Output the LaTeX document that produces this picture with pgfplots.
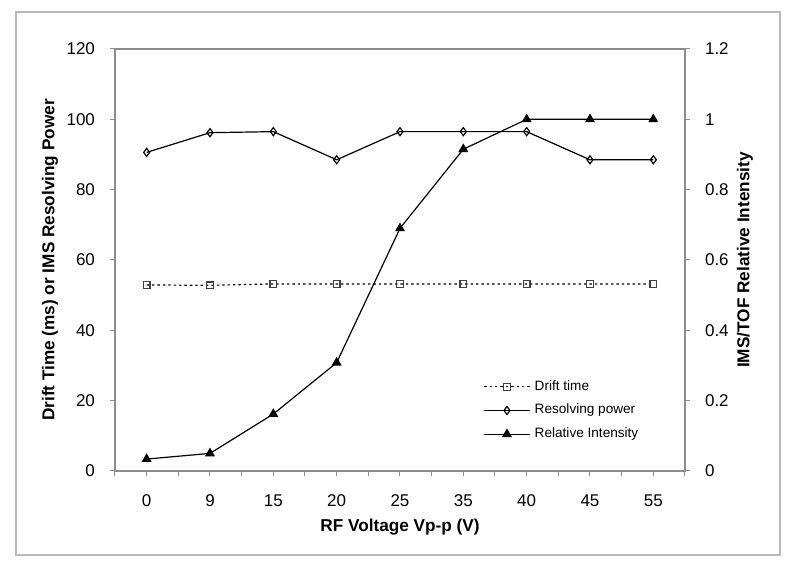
\documentclass[border=0pt]{standalone}
\usepackage{fontspec}
\setmainfont{Liberation Sans}
\usepackage{pgfplots}
\usepackage{pgfplotstable}
\pgfplotsset{compat=1.18}

\definecolor{axisgray}{RGB}{140,140,140}
\definecolor{framegray}{RGB}{185,185,185}

% x = category index (0..8), labels set below
\pgfplotstableread{
x rp drift rel
0 90.6 52.9 0.034
1 96.2 52.8 0.050
2 96.5 53.2 0.162
3 88.5 53.2 0.308
4 96.5 53.2 0.690
5 96.5 53.2 0.915
6 96.5 53.2 1.000
7 88.5 53.2 1.000
8 88.5 53.2 1.000
}\datatable

\pgfplotsset{
  base/.style={
    scale only axis, width=285pt, height=211pt,
    xmin=-0.5, xmax=8.5,
    /pgf/number format/assume math mode=true,
    tick label style={font=\fontsize{8.5}{10}\selectfont},
    label style={font=\fontsize{8.6}{10}\selectfont\bfseries},
    axis line style={axisgray, line width=0.6pt},
    tick style={axisgray, line width=0.5pt},
    tick align=outside, major tick length=2.5pt,
  },
  ser/.style={black, line width=0.6pt},
}

\begin{document}
\begin{tikzpicture}
\path[use as bounding box] (-57.5pt,-51pt) rectangle (342.5pt,235.5pt);
\draw[framegray, line width=0.7pt] (-49.5pt,-42pt) rectangle (332.5pt,229.5pt);

\begin{axis}[base,
  ymin=0, ymax=120, ytick={0,20,...,120},
  ytick pos=left, xtick pos=bottom,
  xtick={0,...,8},
  xticklabels={0,9,15,20,25,35,40,45,55},
  extra x ticks={-0.5,0.5,...,8.5},
  extra x tick labels={},
  x tick label style={yshift=-6pt},
  y tick label style={xshift=-4pt},
  xlabel={RF Voltage Vp-p (V)},
  ylabel={Drift Time (ms) or IMS Resolving Power},
  xlabel style={at={(rel axis cs:0.5,0)}, yshift=-20.5pt},
  ylabel style={at={(rel axis cs:0,0.5)}, yshift=25pt},
]
\addplot[ser, dash pattern=on 1.2pt off 1.5pt, mark=square, mark size=1.7pt,
  mark options={solid, fill=white, draw=black!75}]
  table[x=x, y=drift] {\datatable};
\addplot[ser, mark=diamond, mark size=2pt, mark options={solid, fill=white}]
  table[x=x, y=rp] {\datatable};
\end{axis}

\begin{axis}[base,
  ymin=0, ymax=1.2, ytick={0,0.2,...,1.2},
  axis x line=none, axis y line*=right,
  y tick label style={xshift=4pt},
  ylabel={IMS/TOF Relative Intensity},
  ylabel style={at={(rel axis cs:1,0.5)}, anchor=center, yshift=-30pt},
  legend style={draw=none, fill=none, at={(rel axis cs:0.646,0.226)}, anchor=north west,
    font=\fontsize{6.8}{8}\selectfont, row sep=1pt, inner sep=0pt,
    nodes={inner sep=2.2pt}},
  legend cell align=left,
  legend image code/.code={\draw[mark repeat=2, mark phase=2, #1]
    plot coordinates {(0cm,0cm) (0.4cm,0cm) (0.8cm,0cm)};},
]
\addlegendimage{ser, dash pattern=on 1.2pt off 1.5pt, mark=square, mark size=1.7pt,
  mark options={solid, fill=white, draw=black!75}}
\addlegendentry{Drift time}
\addlegendimage{ser, mark=diamond, mark size=2pt, mark options={solid, fill=white}}
\addlegendentry{Resolving power}
\addplot[ser, mark=triangle*, mark size=2.3pt]
  table[x=x, y=rel] {\datatable};
\addlegendentry{Relative Intensity}
\end{axis}
\end{tikzpicture}
\end{document}
